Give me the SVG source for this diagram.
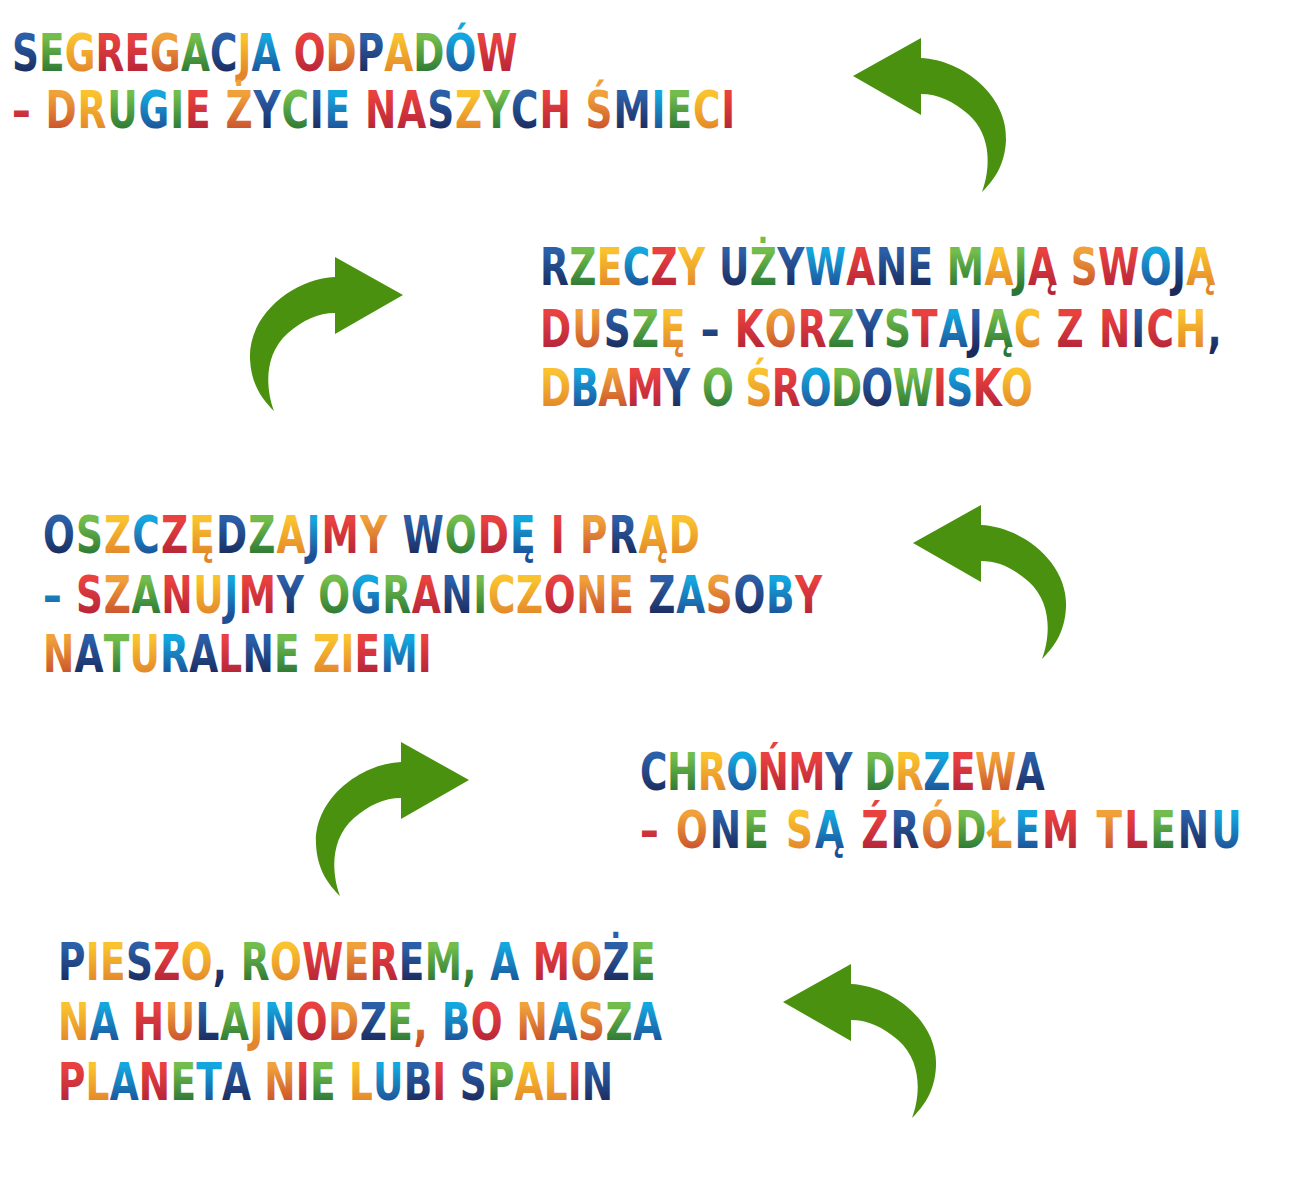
<svg xmlns="http://www.w3.org/2000/svg" width="1300" height="1199" viewBox="0 0 1300 1199">
<defs>
<linearGradient id="gB" x1="0" y1="0" x2="0" y2="1"><stop offset="0.25" stop-color="#2b5fa8"/><stop offset="0.85" stop-color="#1a2a5c"/></linearGradient>
<linearGradient id="gL" x1="0" y1="0" x2="0" y2="1"><stop offset="0.25" stop-color="#14a6de"/><stop offset="0.85" stop-color="#1d4f96"/></linearGradient>
<linearGradient id="gG" x1="0" y1="0" x2="0" y2="1"><stop offset="0.25" stop-color="#72bd4c"/><stop offset="0.85" stop-color="#2a7634"/></linearGradient>
<linearGradient id="gY" x1="0" y1="0" x2="0" y2="1"><stop offset="0.25" stop-color="#f9c22e"/><stop offset="0.85" stop-color="#e3852a"/></linearGradient>
<linearGradient id="gO" x1="0" y1="0" x2="0" y2="1"><stop offset="0.25" stop-color="#f0a13a"/><stop offset="0.85" stop-color="#c9502c"/></linearGradient>
<linearGradient id="gR" x1="0" y1="0" x2="0" y2="1"><stop offset="0.25" stop-color="#e9413f"/><stop offset="0.85" stop-color="#b32438"/></linearGradient>
<path id="arr" d="M0 0 L68 -38 L68 -18 C110 -16 155 20 153 64 C152 90 140 105 129 116 C137 95 140 60 115 38 C100 25 85 18 68 18 L68 39 Z"/>
</defs>
<style>
text{font-family:"DejaVu Sans Condensed","Liberation Sans Narrow","Liberation Sans",sans-serif;font-weight:bold;font-size:52px;font-stretch:condensed}
.b{fill:url(#gB)}.l{fill:url(#gL)}.g{fill:url(#gG)}.y{fill:url(#gY)}.o{fill:url(#gO)}.r{fill:url(#gR)}
.arrow{fill:#4a910f}
</style>
<rect width="1300" height="1199" fill="#ffffff"/>

<g id="node-segregacja">
<text transform="translate(12,71) scale(0.8,1)" textLength="632" lengthAdjust="spacing"><tspan class="b">S</tspan><tspan class="g">E</tspan><tspan class="y">G</tspan><tspan class="r">R</tspan><tspan class="r">E</tspan><tspan class="o">G</tspan><tspan class="g">A</tspan><tspan class="b">C</tspan><tspan class="y">J</tspan><tspan class="l">A</tspan> <tspan class="r">O</tspan><tspan class="o">D</tspan><tspan class="b">P</tspan><tspan class="y">A</tspan><tspan class="g">D</tspan><tspan class="l">Ó</tspan><tspan class="r">W</tspan></text>
<text transform="translate(12,128) scale(0.8,1)" textLength="904" lengthAdjust="spacing"><tspan class="r">–</tspan> <tspan class="o">D</tspan><tspan class="y">R</tspan><tspan class="g">U</tspan><tspan class="l">G</tspan><tspan class="g">I</tspan><tspan class="r">E</tspan> <tspan class="o">Ż</tspan><tspan class="b">Y</tspan><tspan class="g">C</tspan><tspan class="b">I</tspan><tspan class="l">E</tspan> <tspan class="r">N</tspan><tspan class="r">A</tspan><tspan class="b">S</tspan><tspan class="y">Z</tspan><tspan class="g">Y</tspan><tspan class="b">C</tspan><tspan class="r">H</tspan> <tspan class="o">Ś</tspan><tspan class="b">M</tspan><tspan class="l">I</tspan><tspan class="g">E</tspan><tspan class="y">C</tspan><tspan class="r">I</tspan></text>
</g>

<g id="node-rzeczy">
<text transform="translate(540,285) scale(0.8,1)" textLength="844" lengthAdjust="spacing"><tspan class="b">R</tspan><tspan class="g">Z</tspan><tspan class="y">E</tspan><tspan class="l">C</tspan><tspan class="r">Z</tspan><tspan class="y">Y</tspan> <tspan class="b">U</tspan><tspan class="g">Ż</tspan><tspan class="b">Y</tspan><tspan class="l">W</tspan><tspan class="r">A</tspan><tspan class="b">N</tspan><tspan class="b">E</tspan> <tspan class="g">M</tspan><tspan class="y">A</tspan><tspan class="g">J</tspan><tspan class="r">Ą</tspan> <tspan class="o">S</tspan><tspan class="r">W</tspan><tspan class="l">O</tspan><tspan class="b">J</tspan><tspan class="y">Ą</tspan></text>
<text transform="translate(540,347) scale(0.8,1)" textLength="852" lengthAdjust="spacing"><tspan class="r">D</tspan><tspan class="o">U</tspan><tspan class="b">S</tspan><tspan class="g">Z</tspan><tspan class="y">Ę</tspan> <tspan class="b">–</tspan> <tspan class="r">K</tspan><tspan class="o">O</tspan><tspan class="r">R</tspan><tspan class="g">Z</tspan><tspan class="b">Y</tspan><tspan class="g">S</tspan><tspan class="r">T</tspan><tspan class="l">A</tspan><tspan class="b">J</tspan><tspan class="g">Ą</tspan><tspan class="y">C</tspan> <tspan class="r">Z</tspan> <tspan class="r">N</tspan><tspan class="b">I</tspan><tspan class="r">C</tspan><tspan class="y">H</tspan><tspan class="b">,</tspan></text>
<text transform="translate(540,406) scale(0.8,1)" textLength="616" lengthAdjust="spacing"><tspan class="y">D</tspan><tspan class="l">B</tspan><tspan class="o">A</tspan><tspan class="r">M</tspan><tspan class="b">Y</tspan> <tspan class="g">O</tspan> <tspan class="y">Ś</tspan><tspan class="r">R</tspan><tspan class="l">O</tspan><tspan class="g">D</tspan><tspan class="b">O</tspan><tspan class="g">W</tspan><tspan class="r">I</tspan><tspan class="l">S</tspan><tspan class="r">K</tspan><tspan class="y">O</tspan></text>
</g>

<g id="node-oszczedzajmy">
<text transform="translate(43,553) scale(0.8,1)" textLength="821" lengthAdjust="spacing"><tspan class="b">O</tspan><tspan class="g">S</tspan><tspan class="y">Z</tspan><tspan class="l">C</tspan><tspan class="r">Z</tspan><tspan class="y">Ę</tspan><tspan class="b">D</tspan><tspan class="g">Z</tspan><tspan class="y">A</tspan><tspan class="l">J</tspan><tspan class="r">M</tspan><tspan class="o">Y</tspan> <tspan class="b">W</tspan><tspan class="g">O</tspan><tspan class="r">D</tspan><tspan class="l">Ę</tspan> <tspan class="r">I</tspan> <tspan class="o">P</tspan><tspan class="b">R</tspan><tspan class="y">Ą</tspan><tspan class="y">D</tspan></text>
<text transform="translate(43,613) scale(0.8,1)" textLength="974" lengthAdjust="spacing"><tspan class="l">–</tspan> <tspan class="r">S</tspan><tspan class="o">Z</tspan><tspan class="g">A</tspan><tspan class="r">N</tspan><tspan class="y">U</tspan><tspan class="l">J</tspan><tspan class="r">M</tspan><tspan class="b">Y</tspan> <tspan class="g">O</tspan><tspan class="l">G</tspan><tspan class="g">R</tspan><tspan class="r">A</tspan><tspan class="b">N</tspan><tspan class="g">I</tspan><tspan class="y">C</tspan><tspan class="y">Z</tspan><tspan class="r">O</tspan><tspan class="o">N</tspan><tspan class="o">E</tspan> <tspan class="b">Z</tspan><tspan class="l">A</tspan><tspan class="o">S</tspan><tspan class="b">O</tspan><tspan class="l">B</tspan><tspan class="r">Y</tspan></text>
<text transform="translate(43,672) scale(0.8,1)" textLength="486" lengthAdjust="spacing"><tspan class="o">N</tspan><tspan class="b">A</tspan><tspan class="g">T</tspan><tspan class="y">U</tspan><tspan class="l">R</tspan><tspan class="b">A</tspan><tspan class="r">L</tspan><tspan class="b">N</tspan><tspan class="g">E</tspan> <tspan class="y">Z</tspan><tspan class="y">I</tspan><tspan class="r">E</tspan><tspan class="l">M</tspan><tspan class="r">I</tspan></text>
</g>

<g id="node-chronmy">
<text transform="translate(640,790) scale(0.8,1)" textLength="506" lengthAdjust="spacing"><tspan class="b">C</tspan><tspan class="g">H</tspan><tspan class="y">R</tspan><tspan class="l">O</tspan><tspan class="r">Ń</tspan><tspan class="r">M</tspan><tspan class="b">Y</tspan> <tspan class="g">D</tspan><tspan class="y">R</tspan><tspan class="l">Z</tspan><tspan class="r">E</tspan><tspan class="o">W</tspan><tspan class="b">A</tspan></text>
<text transform="translate(640,848) scale(0.8,1)" textLength="752" lengthAdjust="spacing"><tspan class="r">–</tspan> <tspan class="o">O</tspan><tspan class="b">N</tspan><tspan class="g">E</tspan> <tspan class="y">S</tspan><tspan class="l">Ą</tspan> <tspan class="r">Ź</tspan><tspan class="b">R</tspan><tspan class="o">Ó</tspan><tspan class="g">D</tspan><tspan class="y">Ł</tspan><tspan class="l">E</tspan><tspan class="r">M</tspan> <tspan class="o">T</tspan><tspan class="r">L</tspan><tspan class="g">E</tspan><tspan class="b">N</tspan><tspan class="l">U</tspan></text>
</g>

<g id="node-pieszo">
<text transform="translate(58,980) scale(0.8,1)" textLength="747" lengthAdjust="spacing"><tspan class="b">P</tspan><tspan class="y">I</tspan><tspan class="y">E</tspan><tspan class="b">S</tspan><tspan class="r">Z</tspan><tspan class="y">O</tspan><tspan class="b">,</tspan> <tspan class="g">R</tspan><tspan class="y">O</tspan><tspan class="r">W</tspan><tspan class="o">E</tspan><tspan class="r">R</tspan><tspan class="b">E</tspan><tspan class="g">M</tspan><tspan class="g">,</tspan> <tspan class="l">A</tspan> <tspan class="r">M</tspan><tspan class="o">O</tspan><tspan class="b">Ż</tspan><tspan class="g">E</tspan></text>
<text transform="translate(58,1040) scale(0.8,1)" textLength="755" lengthAdjust="spacing"><tspan class="y">N</tspan><tspan class="l">A</tspan> <tspan class="r">H</tspan><tspan class="o">U</tspan><tspan class="b">L</tspan><tspan class="g">A</tspan><tspan class="y">J</tspan><tspan class="l">N</tspan><tspan class="r">O</tspan><tspan class="o">D</tspan><tspan class="b">Z</tspan><tspan class="g">E</tspan><tspan class="o">,</tspan> <tspan class="l">B</tspan><tspan class="r">O</tspan> <tspan class="o">N</tspan><tspan class="l">A</tspan><tspan class="o">S</tspan><tspan class="g">Z</tspan><tspan class="l">A</tspan></text>
<text transform="translate(58,1100) scale(0.8,1)" textLength="694" lengthAdjust="spacing"><tspan class="r">P</tspan><tspan class="y">L</tspan><tspan class="l">A</tspan><tspan class="r">N</tspan><tspan class="g">E</tspan><tspan class="l">T</tspan><tspan class="b">A</tspan> <tspan class="o">N</tspan><tspan class="r">I</tspan><tspan class="g">E</tspan> <tspan class="y">L</tspan><tspan class="l">U</tspan><tspan class="b">B</tspan><tspan class="r">I</tspan> <tspan class="b">S</tspan><tspan class="g">P</tspan><tspan class="y">A</tspan><tspan class="y">L</tspan><tspan class="r">I</tspan><tspan class="b">N</tspan></text>
</g>

<g id="connectors" class="arrow">
<use href="#arr" transform="translate(853,76)"/>
<use href="#arr" transform="translate(403,295) scale(-1,1)"/>
<use href="#arr" transform="translate(913,543)"/>
<use href="#arr" transform="translate(469,780) scale(-1,1)"/>
<use href="#arr" transform="translate(783,1002)"/>
</g>
</svg>
